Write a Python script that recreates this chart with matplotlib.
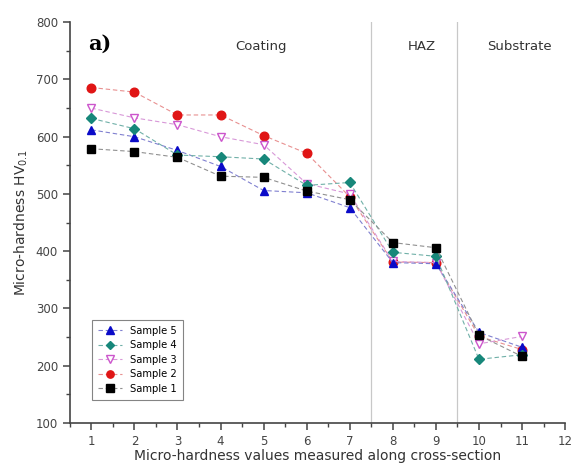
import matplotlib
matplotlib.use("Agg")
import matplotlib.pyplot as plt
from matplotlib.ticker import MultipleLocator

positions = [1, 2, 3, 4, 5, 6, 7, 8, 9, 10, 11]
sample1 = [579, 574, 564, 531, 529, 505, 490, 415, 406, 253, 216]
sample2 = [686, 678, 638, 638, 602, 571, 495, 381, 380, 251, 228]
sample3 = [650, 633, 621, 600, 586, 518, 500, 382, 380, 238, 251]
sample4 = [632, 614, 568, 565, 561, 515, 520, 398, 391, 211, 219]
sample5 = [612, 600, 576, 548, 506, 502, 476, 380, 378, 258, 232]
labels = ["Sample 5", "Sample 4", "Sample 3", "Sample 2", "Sample 1"]
zones = ["Coating", "HAZ", "Substrate"]

fig = plt.figure(figsize=(5.72, 4.74), dpi=100)
ax = fig.add_axes([0.122, 0.108, 0.866, 0.845])

series = [
    (sample5, "#0a0ac8", "^", "#0a0ac8", "#8080d0", 3.2),
    (sample4, "#17877a", "D", "#17877a", "#70b0a8", 3.3),
    (sample3, "white", "v", "#cc55cc", "#d898d8", 3.1),
    (sample2, "#e01515", "o", "#e01515", "#e89090", 2.5),
    (sample1, "black", "s", "black", "#909090", 3.4),
]
for (vals, fc, mk, ec, lc, z), lab in zip(series, labels):
    ms = 5.2 if mk == "D" else 6.2
    ax.plot(positions, vals, linestyle="--", color=lc, lw=0.8,
            dashes=(4, 2.5), marker=mk, markersize=ms, markerfacecolor=fc,
            markeredgecolor=ec, markeredgewidth=1.0, label=lab, zorder=z)

for xv in (7.5, 9.5):
    ax.axvline(xv, color="#c8c8c8", lw=0.9, zorder=0)

ax.text(4.95, 757, zones[0], ha="center", va="center", fontsize=9.5, color="#333333")
ax.text(8.68, 757, zones[1], ha="center", va="center", fontsize=9.5, color="#333333")
ax.text(10.95, 757, zones[2], ha="center", va="center", fontsize=9.5, color="#333333")
ax.text(1.2, 763, "a)", ha="center", va="center", fontsize=15, fontweight="bold",
        family="DejaVu Serif")

ax.set_xlim(0.5, 12)
ax.set_ylim(100, 800)
ax.xaxis.set_major_locator(MultipleLocator(1))
ax.xaxis.set_minor_locator(MultipleLocator(0.5))
ax.yaxis.set_major_locator(MultipleLocator(100))
ax.yaxis.set_minor_locator(MultipleLocator(50))
ax.spines["top"].set_visible(False)
ax.spines["right"].set_visible(False)
for s in ("left", "bottom"):
    ax.spines[s].set_color("#444444")
    ax.spines[s].set_linewidth(1.2)
ax.tick_params(which="major", length=5, width=1.1, labelsize=8.5, colors="#444444", labelcolor="#444444")
ax.tick_params(which="minor", length=3, width=1.0, colors="#444444")

ax.set_xlabel("Micro-hardness values measured along cross-section", fontsize=10, color="#333333", labelpad=1)
ax.set_ylabel("Micro-hardness HV$_{0.1}$", fontsize=10, color="#333333", labelpad=4)

leg = ax.legend(loc="lower left", bbox_to_anchor=(0.035, 0.045), fontsize=7.2,
                frameon=True, fancybox=False, edgecolor="#666666",
                handlelength=2.4, borderpad=0.6, labelspacing=0.45, markerscale=0.85)
leg.get_frame().set_linewidth(0.8)
leg.set_zorder(5)

fig.savefig("out.png", dpi=100)
